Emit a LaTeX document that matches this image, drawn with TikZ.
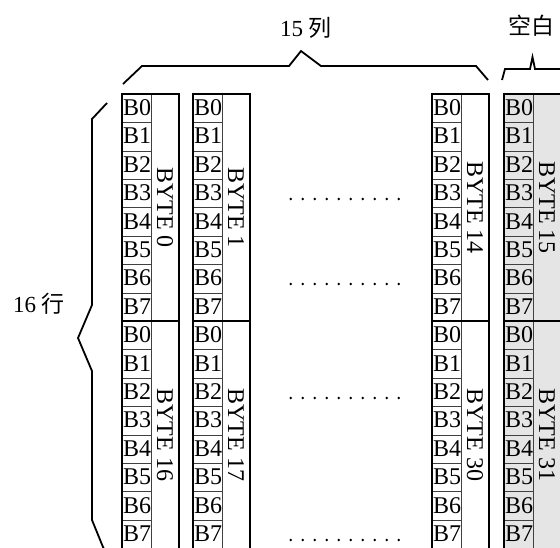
\documentclass[tikz,border=0pt]{standalone}
\usepackage{fontspec}
\setmainfont{Liberation Serif}
\newfontfamily\cjk{Noto Sans CJK SC}
\begin{document}
\begin{tikzpicture}[x=1pt,y=-1pt,
  bytebox/.style={draw,line width=1.8pt,minimum width=57pt,minimum height=227.2pt,anchor=north west,inner sep=0pt,outer sep=0pt},
  bitline/.style={draw=black!75,line width=0.6pt},
  bitlabel/.style={font=\fontsize{24}{24}\selectfont,anchor=base west,inner sep=0pt},
  bytelabel/.style={font=\fontsize{24}{24}\selectfont,rotate=-90,inner sep=0pt},
  bracel/.style={line width=1.8pt,line join=miter},
  cjklabel/.style={font=\fontsize{23}{23}\selectfont,inner sep=0pt}]
\useasboundingbox (0,0) rectangle (560,547);
\clip (0,0) rectangle (560,547);
\foreach \x/\id/\na/\nb/\fc in {122/c0/0/16/white, 193/c1/1/17/white, 432/c14/14/30/white, 504/c15/15/31/black!10} {
  \node[bytebox,fill=\fc] (\id a) at (\x,94) {};
  \node[bytebox,fill=\fc] (\id b) at (\x,321.2) {};
  \draw[bitline] ({\x+29},94) -- ({\x+29},548.4);
  \foreach \r in {1,...,7} {
    \draw[bitline] (\x,{94+28.4*\r}) -- ({\x+29},{94+28.4*\r});
    \draw[bitline] (\x,{321.2+28.4*\r}) -- ({\x+29},{321.2+28.4*\r});
  }
  \foreach \r in {0,...,7} {
    \node[bitlabel] (\id a\r) at ({\x+0.8},{94+28.4*\r+21.5}) {B\r};
    \node[bitlabel] (\id b\r) at ({\x+0.8},{321.2+28.4*\r+21.5}) {B\r};
  }
  \node[bytelabel] (\id al) at ({\x+43},207.6) {BYTE \na};
  \node[bytelabel] (\id bl) at ({\x+43},434.8) {BYTE \nb};
  \draw[line width=1.8pt] (\id a.north west) rectangle (\id a.south east);
  \draw[line width=1.8pt] (\id b.north west) rectangle (\id b.south east);
}
\foreach \yy in {199,284,398,540}
  \foreach \i in {0,...,9}
    \fill ({290.7+12*\i},\yy) circle (1.4pt);
% braces
\draw[bracel] (123,84) -- (142,66) -- (289,66) -- (301,51) -- (321,66) -- (476,66) -- (488,80);
\draw[bracel] (502,80) -- (505,69) -- (530,69) -- (532.5,57) -- (535,69) -- (565,69);
\draw[bracel] (107,103) -- (92,119) -- (92,305) -- (78,338) -- (92,371) -- (92,520) -- (103,547) -- (106,553);
% labels
\node[cjklabel] (t15) at (306,28) {15 {\cjk 列}};
\node[cjklabel] (tblank) at (531,26) {\cjk 空白};
\node[cjklabel] (t16) at (39,304) {16 {\cjk 行}};
\end{tikzpicture}
\end{document}
